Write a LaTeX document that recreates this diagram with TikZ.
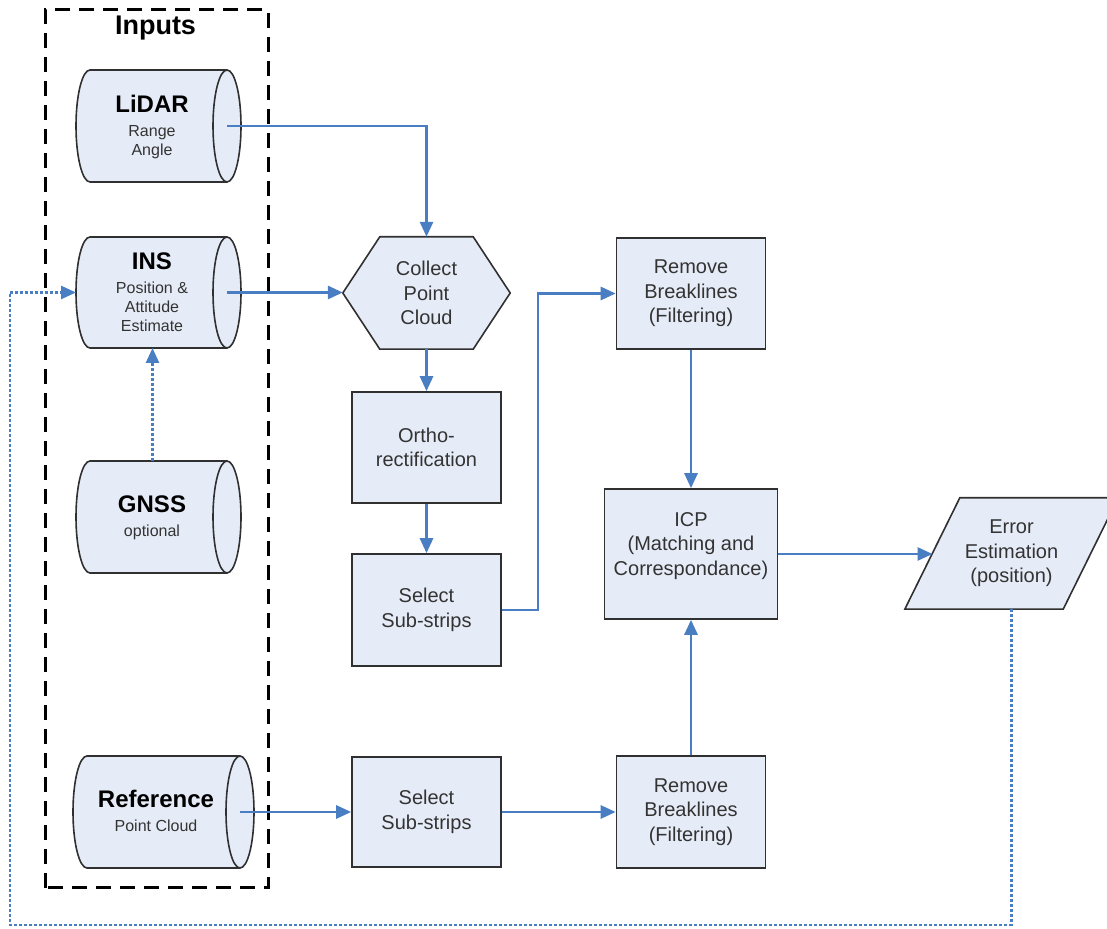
\documentclass[tikz,border=0pt]{standalone}
\usepackage{fontspec}
\setmainfont{Liberation Sans}
\usetikzlibrary{arrows.meta,calc,backgrounds}

\definecolor{boxfill}{HTML}{E6ECF7}
\definecolor{flowblue}{HTML}{4A7EC2}
\definecolor{edgegray}{HTML}{303030}
\definecolor{textgray}{HTML}{333333}

\tikzset{
  edgeline/.style={draw=edgegray, line width=1.6pt},
  stepbox/.style={edgeline, fill=boxfill, inner sep=0pt, align=center,
    text=textgray, font=\fontsize{20}{24.5}\selectfont},
  ghost/.style={inner sep=0pt, align=center, text=textgray,
    font=\fontsize{20}{24.5}\selectfont},
  drumtext/.style={inner sep=0pt, align=center, text=textgray,
    font=\fontsize{16}{19}\selectfont},
  flow/.style={draw=flowblue, line width=2.8pt,
    -{Triangle[length=15pt,width=13pt]}},
  feedback/.style={draw=flowblue, line width=2.6pt, dash pattern=on 3pt off 2pt,
    -{Triangle[length=15pt,width=13pt]}},
}

% \inputdrum{name}{left x}{right x}{bottom y}{top y}
% horizontal cylinder: back rim on the left, open ellipse on the right
\newcommand\inputdrum[5]{%
  \pgfmathsetmacro\drumry{(#5-#4)/2}%
  \pgfmathsetmacro\drummid{(#5+#4)/2}%
  \fill[fill=boxfill] (#2+14,#5)
     arc[start angle=90,end angle=270,x radius=14,y radius=\drumry]
     -- (#3-14,#4)
     arc[start angle=-90,end angle=90,x radius=14,y radius=\drumry] -- cycle;
  \draw[edgeline] (#3-14,#5) -- (#2+14,#5)
     arc[start angle=90,end angle=270,x radius=14,y radius=\drumry]
     -- (#3-14,#4);
  \draw[edgeline] (#3-14,\drummid) ellipse[x radius=14,y radius=\drumry];
  \coordinate (#1-c) at (#3-14,\drummid);
  \coordinate (#1-w) at (#2,\drummid);
  \coordinate (#1-n) at ({(#2+#3)/2-6},#5);
  \coordinate (#1-s) at ({(#2+#3)/2-6},#4);
}

\newcommand\drumhead[1]{{\fontsize{24}{24}\selectfont\bfseries\color{black}#1}}

\begin{document}
\begin{tikzpicture}[x=1pt,y=1pt]
  \useasboundingbox (0,0) rectangle (1107,928);
  \clip (0,0) rectangle (1107,928);

  % group frame for the inputs
  \draw[black, line width=3pt, dash pattern=on 15pt off 9pt]
    (45,40) rectangle (268,918);
  \node[anchor=base, font=\fontsize{27}{32}\selectfont\bfseries] (inputs)
    at (155.5,893) {Inputs};

  % input sources
  \inputdrum{lidar-d}{76}{241}{746}{858}
  \node[drumtext] (lidar) at (152,801.5) {\drumhead{LiDAR}\\[5pt]Range\\Angle};

  \inputdrum{ins-d}{76}{241}{580}{691}
  \node[drumtext] (ins) at (152,636)
    {\drumhead{INS}\\[5pt]Position \&\\Attitude\\Estimate};

  \inputdrum{gnss-d}{76}{241}{355}{467}
  \node[drumtext] (gnss) at (152,410) {\drumhead{GNSS}\\[5pt]optional};

  \inputdrum{ref-d}{73}{254}{60}{172}
  \node[drumtext] (ref) at (156,117) {\drumhead{Reference}\\[5pt]Point Cloud};

  % processing steps
  \node[ghost, minimum width=167pt, minimum height=112pt] (hex)
    at (426.5,635) {Collect\\Point\\Cloud};
  \node[stepbox, minimum width=149pt, minimum height=111pt] (ortho)
    at (426.5,480.5) {Ortho-\\rectification};
  \node[stepbox, minimum width=149pt, minimum height=112pt] (sel1)
    at (426.5,318) {Select\\Sub-strips};
  \node[stepbox, minimum width=149pt, minimum height=111pt] (rem1)
    at (691,634.5) {Remove\\Breaklines\\(Filtering)};
  \node[stepbox, minimum width=173pt, minimum height=130pt] (icp)
    at (691,374) {};
  \node[ghost] (icptext) at (691,382)
    {ICP\\(Matching and\\Correspondance)};
  \node[ghost, minimum width=213pt, minimum height=111pt] (err)
    at (1011.5,374.5) {Error\\Estimation\\(position)};
  \node[stepbox, minimum width=149pt, minimum height=110pt] (sel2)
    at (426.5,116) {Select\\Sub-strips};
  \node[stepbox, minimum width=149pt, minimum height=112pt] (rem2)
    at (691,116) {Remove\\Breaklines\\(Filtering)};

  \begin{pgfonlayer}{background}
    \clip (0,0) rectangle (1107,928);
    \filldraw[edgeline, fill=boxfill] (hex.west)
      -- ([xshift=37pt]hex.north west) -- ([xshift=-37pt]hex.north east)
      -- (hex.east)
      -- ([xshift=-37pt]hex.south east) -- ([xshift=37pt]hex.south west)
      -- cycle;
    \filldraw[edgeline, fill=boxfill] (err.south west)
      -- ([xshift=55pt]err.north west) -- (err.north east)
      -- ([xshift=-55pt]err.south east) -- cycle;
  \end{pgfonlayer}

  % connectors
  \coordinate (jog) at (538,318);
  \coordinate (err-in) at (932.5,374);
  \coordinate (loop) at (10,3);

  \draw[flow] (lidar-d-c) -| (hex.north);
  \draw[flow] (ins-d-c) -- (ins-d-c -| hex.west);
  \draw[flow] (hex.south) -- (ortho.north);
  \draw[flow] (ortho.south) -- (sel1.north);
  \draw[flow] (sel1.east) -- (jog) |- (rem1.west);
  \draw[flow] (rem1.south) -- (icp.north);
  \draw[flow] (icp.east) -- (err-in);
  \draw[flow] (ref-d-c) -- (sel2.west);
  \draw[flow] (sel2.east) -- (rem2.west);
  \draw[flow] (rem2.north) -- (icp.south);

  \draw[feedback] (gnss-d-n) -- (ins-d-s);
  \draw[feedback] (err.south) |- (loop) |- (ins-d-w);
\end{tikzpicture}
\end{document}
